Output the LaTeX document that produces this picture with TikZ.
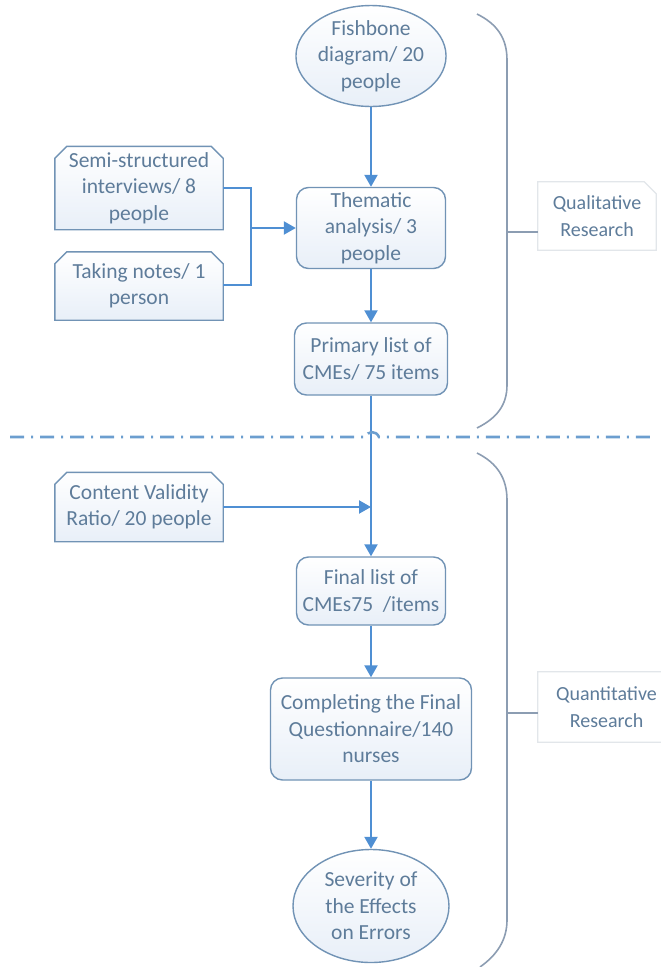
\documentclass[tikz,border=0pt]{standalone}
\usepackage{fontspec}
\setmainfont{Carlito}
\usetikzlibrary{arrows.meta,shapes.geometric}
\pgfdeclarelayer{bg}
\pgfsetlayers{bg,main}
\definecolor{txt}{HTML}{5E7C9A}
\definecolor{bord}{HTML}{7193B5}
\definecolor{arrc}{HTML}{4F8FD3}
\definecolor{brc}{HTML}{8C9DB2}
\definecolor{fillb}{HTML}{E8EFF8}
\definecolor{dashc}{HTML}{6C9ECF}
\definecolor{lblc}{HTML}{E2E6EA}
\tikzset{
  tfont/.style={font=\fontsize{21.5}{26.5}\selectfont},
  lfont/.style={font=\fontsize{20}{27}\selectfont},
  base/.style={draw=bord, line width=1.4pt, top color=white, bottom color=fillb,
    text=txt, tfont, align=center, inner sep=0pt},
  rbox/.style={base, rectangle, rounded corners=12pt},
  ebox/.style={base, ellipse},
  cbox/.style={rectangle, text=txt, tfont, align=center, inner sep=0pt},
  lbl/.style={rectangle, text=txt, lfont, align=center, inner sep=0pt},
  arr/.style={draw=arrc, line width=2.2pt, -{Triangle[width=13pt,length=12pt]}},
  link/.style={draw=arrc, line width=2.2pt},
  bracel/.style={draw=brc, line width=1.6pt},
  dashdot line/.style={draw=dashc, line width=2.6pt, dash pattern=on 14pt off 7pt on 2pt off 7pt},
  chamfill/.style={draw=bord, line width=1.4pt, top color=white, bottom color=fillb},
  lblfill/.style={draw=lblc, line width=1.2pt, fill=white}
}
\newcommand\chambox[1]{\path[chamfill] (#1.south west) -- ([yshift=-12pt]#1.north west) -- ([xshift=12pt]#1.north west) -- ([xshift=-12pt]#1.north east) -- ([yshift=-12pt]#1.north east) -- (#1.south east) -- cycle;}
\newcommand\lblbox[1]{\path[lblfill] (#1.south west) -- (#1.north west) -- ([xshift=-12pt]#1.north east) -- ([yshift=-12pt]#1.north east) -- (#1.south east) -- cycle;}
\begin{document}
\begin{tikzpicture}[x=1pt,y=-1pt]
\useasboundingbox (0,0) rectangle (661,967);
% main column
\node[ebox, minimum width=148pt, minimum height=90pt] (fish) at (371,56) {Fishbone\\diagram/ 20\\people};
\node[rbox, minimum width=149pt, minimum height=81pt] (them) at (371,228) {Thematic\\analysis/ 3\\people};
\node[rbox, minimum width=153pt, minimum height=72pt] (prim) at (371,359) {Primary list of\\CMEs/ 75 items};
\node[rbox, minimum width=149pt, minimum height=68pt] (final) at (371,591) {Final list of\\CMEs75\ \ /items};
\node[rbox, minimum width=201pt, minimum height=102pt] (compl) at (371,729) {Completing the Final\\Questionnaire/140\\nurses};
\node[ebox, minimum width=156pt, minimum height=113pt] (sev) at (371,906) {Severity of\\the Effects\\on Errors};
% side inputs
\node[cbox, minimum width=168pt, minimum height=83pt] (semi) at (139,188) {Semi-structured\\interviews/ 8\\people};
\node[cbox, minimum width=168pt, minimum height=68pt] (take) at (139,286) {Taking notes/ 1\\person};
\node[cbox, minimum width=168pt, minimum height=69pt] (cvr) at (139,507) {Content Validity\\Ratio/ 20 people};
% labels
\node[lbl, minimum width=118pt, minimum height=68pt] (qual) at (597,216) {Qualitative\\Research};
\node[lbl, minimum width=137pt, minimum height=70pt] (quan) at (606.5,707) {Quantitative\\Research};
\begin{pgfonlayer}{bg}
  \chambox{semi}
  \chambox{take}
  \chambox{cvr}
  \lblbox{qual}
  \lblbox{quan}
\end{pgfonlayer}
% connectors
\draw[arr] (fish) -- (them);
\draw[arr] (them) -- (prim);
\draw[arr] (prim) -- (final);
\draw[arr] (final) -- (compl);
\draw[arr] (compl) -- (sev);
\coordinate (j1) at (251,188);
\coordinate (j2) at (251,285);
\coordinate (j3) at (251,228);
\draw[link] (semi.east |- j1) -- (j1) -- (j2) -- (take.east |- j2);
\draw[arr] (j3) -- (them.west |- j3);
\draw[arr] (cvr.east) -- (cvr.east -| prim.south);
% divider
\draw[dashdot line] (10,437) -- (366,437) .. controls (367,431) and (376,430) .. (379,437) -- (656,437);
% braces
\coordinate (t1) at (507,232);
\coordinate (t2) at (507,713);
\draw[bracel] (477,14) .. controls (497,24) and (507,38) .. (507,60) -- (507,385) .. controls (507,405) and (497,418) .. (477,428);
\draw[bracel] (477,453) .. controls (497,463) and (507,478) .. (507,500) -- (507,920) .. controls (507,940) and (497,955) .. (480,967);
\draw[bracel] (t1) -- (qual.west |- t1);
\draw[bracel] (t2) -- (quan.west |- t2);
\end{tikzpicture}
\end{document}
